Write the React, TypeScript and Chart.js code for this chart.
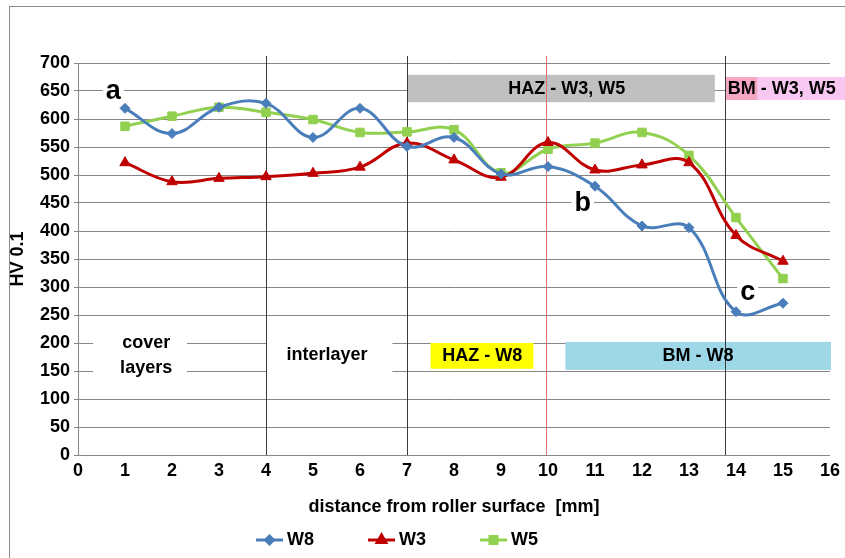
import React, { useEffect, useRef } from "react";
import { Chart, registerables } from "chart.js";
import { drawPoint } from "chart.js/helpers";

Chart.register(...registerables);

const distances = [1, 2, 3, 4, 5, 6, 7, 8, 9, 10, 11, 12, 13, 14, 15];
const w8Values = [619, 574, 621, 628, 567, 619, 551, 567, 502, 515, 480, 409, 406, 256, 271];
const w3Values = [522, 488, 494, 497, 503, 514, 557, 527, 496, 558, 509, 518, 522, 392, 346];
const w5Values = [587, 605, 621, 612, 599, 576, 577, 581, 504, 546, 557, 576, 535, 424, 315];
const seriesNames = ["W8", "W3", "W5"];
const seriesColors = ["#4a7ebb", "#c00000", "#92d050"];
const seriesMarkers = ["rectRot", "triangle", "rect"];
const markerRadius = [5, 6, 6];

const FONT = "'Liberation Sans', Arial, sans-serif";

const toPoints = (vals: number[]) => distances.map((d, i) => ({ x: d, y: vals[i] }));

const decorPlugin = {
  id: "decor",
  beforeDatasetsDraw(chart: any) {
    const ctx = chart.ctx;
    const xs = chart.scales.x;
    const ys = chart.scales.y;
    const px = (v: number) => xs.getPixelForValue(v);
    const py = (v: number) => ys.getPixelForValue(v);
    const area = chart.chartArea;
    ctx.save();

    // white areas behind free text (hide grid lines)
    ctx.fillStyle = "#ffffff";
    ctx.fillRect(px(0.32), py(215), px(2.32) - px(0.32), py(140) - py(215));
    ctx.fillRect(px(4) + 1, py(215), px(6.69) - px(4) - 1, py(140) - py(215));

    // boxes
    ctx.fillStyle = "#c0c0c0";
    ctx.fillRect(px(7.0), py(679), px(13.55) - px(7.0), py(630) - py(679));
    ctx.fillStyle = "#ffff00";
    ctx.fillRect(px(7.5), py(200), px(9.69) - px(7.5), py(154) - py(200));
    ctx.fillStyle = "#9dd7e8";
    ctx.fillRect(px(10.37), py(202), px(16.02) - px(10.37), py(152) - py(202));

    // BM - W3, W5 label with two-tone background
    ctx.font = `bold 18px ${FONT}`;
    ctx.textBaseline = "middle";
    ctx.textAlign = "left";
    const bmX = px(13.76) + 2;
    const bmW = ctx.measureText("BM").width;
    ctx.fillStyle = "#f4a6c4";
    ctx.fillRect(px(13.76) + 1, py(675), bmW + 4, py(634) - py(675));
    ctx.fillStyle = "#f8c8f2";
    ctx.fillRect(px(13.76) + 5 + bmW, py(675), chart.width - (px(13.76) + 5 + bmW), py(634) - py(675));

    // vertical separators
    ctx.lineWidth = 1;
    const top = area.top - 7;
    [4, 7, 13.77].forEach((v) => {
      ctx.strokeStyle = "#3c3c3c";
      ctx.beginPath();
      ctx.moveTo(Math.round(px(v)) + 0.5, top);
      ctx.lineTo(Math.round(px(v)) + 0.5, area.bottom);
      ctx.stroke();
    });
    ctx.strokeStyle = "#e07070";
    ctx.beginPath();
    ctx.moveTo(Math.round(px(9.96)) + 0.5, top);
    ctx.lineTo(Math.round(px(9.96)) + 0.5, area.bottom);
    ctx.stroke();

    // texts
    ctx.fillStyle = "#000000";
    ctx.font = `bold 18px ${FONT}`;
    ctx.textAlign = "left";
    ctx.fillText("BM - W3, W5", bmX + 1, py(654));
    ctx.textAlign = "center";
    ctx.fillText("HAZ - W3, W5", px(10.4), py(654));
    ctx.fillText("HAZ - W8", px(8.6), py(177));
    ctx.fillText("BM - W8", px(13.19), py(177));
    ctx.fillText("cover", px(1.45), py(200));
    ctx.fillText("layers", px(1.45), py(156));
    ctx.fillText("interlayer", px(5.3), py(178));

    // letters a, b, c with white background
    ctx.font = `bold 27px ${FONT}`;
    const letters: [string, number, number][] = [
      ["a", 0.75, 650],
      ["b", 10.74, 450],
      ["c", 14.25, 291],
    ];
    letters.forEach(([t, xv, yv]) => {
      const w = ctx.measureText(t).width;
      ctx.fillStyle = "#ffffff";
      ctx.fillRect(px(xv) - w / 2 - 3, py(yv) - 9, w + 6, 18);
      ctx.fillStyle = "#000000";
      ctx.fillText(t, px(xv), py(yv) + 1);
    });
    ctx.restore();
  },
  afterDraw(chart: any) {
    const ctx = chart.ctx;
    ctx.save();
    // outer frame
    ctx.strokeStyle = "#8c8c8c";
    ctx.lineWidth = 1;
    ctx.strokeRect(9.5, 6.5, chart.width + 10, chart.height + 10);

    // legend: line + marker + label
    ctx.font = `bold 18px ${FONT}`;
    ctx.textBaseline = "middle";
    ctx.textAlign = "left";
    let x = 256;
    const y = 540;
    chart.data.datasets.forEach((ds: any) => {
      ctx.strokeStyle = ds.borderColor;
      ctx.lineWidth = 3;
      ctx.beginPath();
      ctx.moveTo(x, y);
      ctx.lineTo(x + 27, y);
      ctx.stroke();
      ctx.fillStyle = ds.pointBackgroundColor;
      ctx.strokeStyle = ds.pointBorderColor;
      drawPoint(ctx, { pointStyle: ds.pointStyle, radius: ds.pointRadius - 1, rotation: 0, borderWidth: 1 }, x + 13.5, y);
      ctx.fillStyle = "#000000";
      ctx.fillText(ds.label, x + 31, y);
      x += 31 + ctx.measureText(ds.label).width + 54;
    });
    ctx.restore();
  },
};

export default function App() {
  const ref = useRef<HTMLCanvasElement | null>(null);

  useEffect(() => {
    if (!ref.current) return;
    const valueSets = [w8Values, w3Values, w5Values];
    const chart = new Chart(ref.current, {
      type: "line",
      data: {
        datasets: valueSets.map((vals, i) => ({
          label: seriesNames[i],
          data: toPoints(vals),
          borderColor: seriesColors[i],
          backgroundColor: seriesColors[i],
          pointBackgroundColor: seriesColors[i],
          pointBorderColor: seriesColors[i],
          pointStyle: seriesMarkers[i],
          pointRadius: markerRadius[i],
          pointBorderWidth: 1,
          borderWidth: 3,
          tension: 0.4,
          fill: false,
        })),
      },
      options: {
        responsive: false,
        animation: false,
        devicePixelRatio: 1,
        layout: { padding: { left: 0, top: 63, right: 15, bottom: 35 } },
        plugins: {
          legend: { display: false },
          tooltip: { enabled: false },
        },
        scales: {
          x: {
            type: "linear",
            min: 0,
            max: 16,
            afterFit: (s: any) => {
              s.height = 68;
            },
            ticks: {
              stepSize: 1,
              maxRotation: 0,
              autoSkip: false,
              padding: 5,
              color: "#000",
              font: { family: FONT, size: 18, weight: "bold" },
            },
            grid: { display: false, drawTicks: false },
            border: { color: "#868686", width: 1 },
            title: {
              display: true,
              text: "distance from roller surface  [mm]",
              color: "#000",
              font: { family: FONT, size: 18, weight: "bold" },
              padding: { top: 0, bottom: 5 },
            },
          },
          y: {
            min: 0,
            max: 700,
            afterFit: (s: any) => {
              s.width = 78;
            },
            ticks: {
              stepSize: 50,
              padding: 4,
              color: "#000",
              font: { family: FONT, size: 18, weight: "bold" },
            },
            grid: { color: "#868686", tickLength: 4, lineWidth: 1 },
            border: { color: "#868686", width: 1 },
            title: {
              display: true,
              text: "HV 0.1",
              color: "#000",
              font: { family: FONT, size: 18, weight: "bold" },
              padding: { top: 7, bottom: 0 },
            },
          },
        },
      },
      plugins: [decorPlugin],
    });
    return () => chart.destroy();
  }, []);

  return (
    <div style={{ position: "fixed", left: 0, top: 0, width: 845, height: 558, background: "#fff" }}>
      <canvas ref={ref} width={845} height={558} style={{ display: "block" }} />
    </div>
  );
}
